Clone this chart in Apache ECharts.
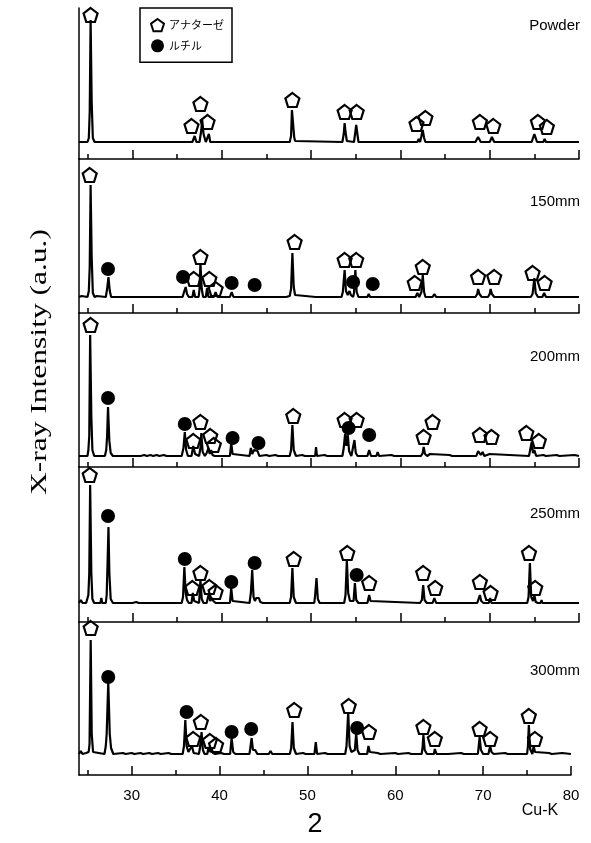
<!DOCTYPE html>
<html><head><meta charset="utf-8">
<script src="https://cdn.jsdelivr.net/npm/echarts@6/dist/echarts.min.js"></script>
<style>html,body{margin:0;padding:0;background:#fff}#c{width:591px;height:843px}</style>
</head><body><div id="c"></div><script>
// ---------- data ----------
const panelNames = ['Powder', '150mm', '200mm', '250mm', '300mm'];
const majorTicks = [30, 40, 50, 60, 70, 80];
const minorTicks = [25, 35, 45, 55, 65, 75];
const legendNames = ['アナターゼ', 'ルチル'];

const linePowder = [[24,0],[24.95,0],[25.1,4],[25.2,30],[25.3,122],[25.42,40],[25.55,4],[25.75,0],
 [36.7,0],[36.95,6],[37.15,0],[37.5,0],[37.7,12],[37.8,22],[37.95,8],[38.2,0],[38.4,0],[38.55,8],[38.7,0],
 [43.6,0],[43.7,1.5],[43.8,0],[47.0,0],[47.1,1.5],[47.2,0],[47.6,0],[47.75,6],[47.85,32],[48.0,32],[48.1,5],[48.2,1],[48.35,0],
 [53.5,0],[53.65,8],[53.75,19],[53.85,10],[54.0,1],[54.1,0],[54.8,0],[54.95,10],[55.05,17],[55.15,10],[55.3,0],
 [61.9,0],[62.05,3],[62.2,0],[62.35,6],[62.5,12],[62.65,4],[62.8,0],
 [68.4,0],[68.7,5],[69.0,0],[70.0,0],[70.25,5],[70.5,0],[74.7,0],[75.0,8],[75.3,0],[76.0,0],[76.15,3],[76.3,0],[79.8,0],[79.9,1.5],[80,0]];
const line150 = [[24,0],[24.3,1],[24.4,0],[24.95,0],[25.1,6],[25.2,30],[25.3,112],[25.42,40],[25.55,4],[25.75,0],[26.0,1],[26.2,0],
 [27.0,0],[27.15,8],[27.3,20],[27.45,6],[27.6,0],[31.5,0],[31.6,2],[31.7,0],[34.8,0],[34.9,2],[35.0,0],
 [35.6,0],[35.8,6],[35.95,10],[36.1,3],[36.3,0],[36.7,0],[36.85,7],[37.0,0],[37.4,0],[37.5,8],[37.6,34],[37.75,8],[37.9,0],
 [38.2,0],[38.35,9],[38.5,0],[39.1,0],[39.3,5],[39.5,0],[40.9,0],[41.1,5],[41.3,0],
 [43.0,0],[43.1,2],[43.2,0],[43.6,0],[43.7,2],[43.8,0],[44.1,0],[44.2,2],[44.3,0],
 [47.2,0],[47.4,2],[47.6,1],[47.75,8],[47.9,44],[48.05,10],[48.2,2],[48.4,0],[50.5,0],[50.6,2],[50.7,0],
 [53.4,0],[53.55,5],[53.75,27],[53.9,6],[54.1,2],[54.3,6],[54.45,2],[54.7,0],[54.8,4],[54.95,27],[55.1,5],[55.3,0],
 [56.3,0],[56.45,3],[56.6,0],[61.7,0],[61.9,4],[62.1,0],[62.35,5],[62.5,22],[62.65,5],[62.8,0],[63.6,0],[63.8,3],[64.0,0],
 [65.2,0],[65.3,1.5],[65.4,0],[68.4,0],[68.6,3],[68.7,8],[68.85,3],[69.1,0],[69.8,0],[70.0,3],[70.1,8],[70.25,3],[70.5,0],
 [74.6,0],[74.8,3],[75.0,19],[75.15,4],[75.4,0],[75.9,0],[76.1,4],[76.3,0],[79.8,0],[79.9,1.5],[80,0]];
const line200 = [[24,0],[24.95,0],[25.05,6],[25.15,20],[25.25,121],[25.38,40],[25.5,6],[25.7,0],
 [26.9,0],[27.05,6],[27.15,20],[27.25,49],[27.4,15],[27.55,3],[27.8,0],
 [30.4,0],[30.6,1],[30.9,0],[31.3,1],[31.6,0],[32.0,1],[32.3,0],[32.7,1],[33.0,0],[33.5,1],[33.8,0],
 [35.5,0],[35.7,8],[35.85,24],[36.0,6],[36.2,0],[36.6,0],[36.8,10],[37.0,2],[37.45,0],[37.6,8],[37.7,23],[37.85,4],[38.1,0],
 [38.3,3],[38.5,8],[38.65,2],[38.8,6],[38.95,1],[39.2,0],[40.9,0],[41.05,13],[41.2,2],[41.4,0],
 [43.1,0],[43.25,8],[43.4,2],[43.6,6],[43.8,4],[44.0,5],[44.2,0],[45.0,1],[45.3,0],[46.0,1],[46.3,0],
 [47.6,0],[47.75,6],[47.9,31],[48.05,6],[48.3,0],[49.0,1],[49.3,0],[50.45,0],[50.55,9],[50.65,0],[51.5,1],[51.8,0],
 [53.5,0],[53.65,8],[53.8,22],[53.95,10],[54.1,22],[54.25,5],[54.5,0],[54.7,2],[54.85,16],[55.0,3],[55.2,0],
 [56.3,0],[56.5,6],[56.7,0],[57.3,0],[57.45,4],[57.6,0],[59.0,1],[59.3,0],
 [62.3,0],[62.5,3],[62.6,9],[62.75,2],[63.0,0],[63.3,2],[63.5,0],[65.5,1],[65.8,0],
 [68.5,0],[68.7,5],[68.8,6],[69.0,1],[69.2,4],[69.4,0],[70.0,2],[70.2,0],
 [74.4,0],[74.55,7],[74.7,14],[74.85,3],[75.0,6],[75.2,0],[76.0,1],[76.3,0],[77.5,1],[77.8,0],[79.5,1],[80,0]];
const line250 = [[24,0],[24.2,3],[24.4,0],[24.6,2],[24.8,0],[24.95,1],[25.05,8],[25.15,30],[25.25,118],[25.38,30],[25.5,4],[25.7,0],
 [26.4,0],[26.5,5],[26.6,0],[27.0,0],[27.1,8],[27.2,40],[27.3,76],[27.4,30],[27.55,4],[27.8,0],
 [29.5,0],[29.7,1],[30.0,0],[30.4,1],[30.7,0],[31.8,0],[31.9,1.5],[32.0,0],
 [35.5,0],[35.65,6],[35.8,36],[35.95,10],[36.1,3],[36.3,0],[36.6,0],[36.75,10],[36.9,2],[37.1,0],[37.45,0],[37.6,23],[37.75,4],[37.95,0],
 [38.3,0],[38.45,6],[38.55,9],[38.7,2],[38.9,5],[39.05,2],[39.3,0],[40.9,0],[41.05,15],[41.2,2],[41.4,0],
 [43.1,0],[43.25,10],[43.4,33],[43.55,6],[43.7,2],[43.85,5],[44.0,3],[44.15,5],[44.3,1],[44.6,0],
 [47.6,0],[47.75,6],[47.9,35],[48.05,6],[48.3,0],[50.35,0],[50.45,8],[50.6,25],[50.75,4],[50.95,0],[51.4,0],[51.5,1.5],[51.6,0],
 [53.7,0],[53.85,8],[54.0,43],[54.15,10],[54.35,2],[54.55,0],[54.75,2],[54.9,20],[55.05,3],[55.3,0],[56.3,0],[56.5,8],[56.65,2],[56.85,0],
 [62.2,0],[62.4,3],[62.55,18],[62.7,3],[62.95,0],[63.6,0],[63.8,5],[64.0,0],[64.4,0],[64.5,1.5],[64.6,0],
 [68.6,0],[68.75,4],[68.9,8],[69.05,2],[69.3,0],[69.9,0],[70.05,5],[70.2,0],
 [74.2,0],[74.35,6],[74.5,40],[74.65,6],[74.85,2],[75.0,8],[75.15,1],[75.4,0],[75.7,0],[75.8,3],[75.9,0],[80,0]];
const line300 = [[24,0],[24.2,3],[24.4,0],[24.6,2],[24.8,1],[25.1,2],[25.2,10],[25.33,114],[25.45,20],[25.6,2],[25.8,0],
 [26.9,0],[27.05,8],[27.15,20],[27.33,72],[27.5,20],[27.65,6],[27.9,0],
 [29.0,1],[29.3,0],[30.0,1],[30.3,0],[31.0,1],[31.3,0],[32.0,1],[32.3,0],[33.0,1],[33.3,0],[34.2,1],[34.5,0],
 [35.8,0],[35.95,8],[36.1,34],[36.25,8],[36.45,2],[36.6,0],[36.85,8],[37.05,1],[37.65,0],[37.8,8],[37.95,22],[38.1,4],[38.3,0],
 [38.6,0],[38.75,7],[38.9,2],[39.1,6],[39.25,1],[39.5,0],[40.2,1],[40.5,0],[41.2,0],[41.37,16],[41.55,2],[41.8,0],
 [43.4,0],[43.5,6],[43.65,16],[43.8,4],[43.95,6],[44.05,4],[44.3,0],[45.6,0],[45.8,3],[46.0,0],
 [48.0,0],[48.15,6],[48.3,32],[48.45,6],[48.7,0],[49.5,1],[49.8,0],[50.8,0],[50.95,12],[51.1,0],[52.0,1],[52.3,0],
 [54.3,0],[54.45,8],[54.64,42],[54.8,8],[55.0,2],[55.2,0],[55.4,4],[55.55,21],[55.7,4],[55.9,0],[56.8,0],[56.95,8],[57.1,2],[57.3,0],
 [58.0,1],[58.3,0],[60.0,1],[60.3,0],[61.5,1],[61.8,0],
 [63.0,0],[63.1,6],[63.2,19],[63.35,4],[63.6,0],[64.4,0],[64.5,5],[64.7,0],[65.6,0],[65.8,2],[66.0,0],[67.5,1],[67.8,0],
 [69.4,0],[69.5,8],[69.6,17],[69.75,4],[70.0,0],[70.6,0],[70.8,8],[70.95,2],[71.2,0],[72.5,1],[72.8,0],
 [75.0,0],[75.1,8],[75.2,29],[75.35,5],[75.6,0],[75.75,8],[75.9,2],[76.1,0],[77.5,1],[77.8,0],[79.0,1],[80,0]];

const anatasePowder = [[25.3,127],[36.6,16],[37.6,38],[38.4,20],[47.9,42],[53.75,30],[55.1,30],[61.8,18],[62.8,24],[68.9,20],[70.4,16],[75.4,20],[76.4,15]];
const anatase150 = [[25.2,122],[36.85,18],[37.6,40],[38.6,18],[39.3,8],[48.15,55],[53.75,37],[55.05,37],[61.6,14],[62.5,30],[68.7,20],[70.5,20],[74.8,24],[76.15,14]];
const anatase200 = [[25.3,131],[36.8,15],[37.6,34],[38.7,20],[39.1,11],[48.0,40],[53.75,36],[55.1,36],[62.6,19],[63.6,34],[68.9,21],[70.2,19],[74.1,23],[75.5,15]];
const anatase250 = [[25.2,128],[36.7,15],[37.6,30],[38.6,16],[39.3,11],[48.05,44],[54.05,50],[56.5,20],[62.55,30],[63.9,15],[68.9,21],[70.1,10],[74.4,50],[75.1,15]];
const anatase300 = [[25.33,126],[37.0,15],[37.87,32],[38.9,13],[39.6,9],[48.5,44],[54.7,48],[57.0,22],[63.2,27],[64.5,15],[69.6,25],[70.8,15],[75.2,38],[75.9,15]];
const rutilePowder = [];
const rutile150 = [[27.25,28],[35.65,20],[41.1,14],[43.67,12],[54.7,15],[56.9,13]];
const rutile200 = [[27.25,58],[35.85,32],[41.2,18],[44.1,13],[54.2,28],[56.5,21]];
const rutile250 = [[27.25,87],[35.85,44],[41.06,21],[43.67,40],[55.1,28]];
const rutile300 = [[27.33,77],[36.25,42],[41.37,22],[43.6,25],[55.66,26]];

// ---------- layout ----------
const lines = [linePowder, line150, line200, line250, line300];
const anatase = [anatasePowder, anatase150, anatase200, anatase250, anatase300];
const rutile = [rutilePowder, rutile150, rutile200, rutile250, rutile300];
const geo = [
  {top: 8,   height: 151, width: 500, ymin: -17, ymax: 134, labelY: 26},
  {top: 159, height: 154, width: 500, ymin: -16, ymax: 138, labelY: 202},
  {top: 313, height: 154, width: 500, ymin: -11, ymax: 143, labelY: 357},
  {top: 467, height: 155, width: 500, ymin: -19, ymax: 136, labelY: 514},
  {top: 622, height: 153, width: 492, ymin: -21, ymax: 132, labelY: 671}
];
const pentagon = 'path://M0,-10L9.51,-3.09L5.88,8.09L-5.88,8.09L-9.51,-3.09Z';
const axisCol = '#000';

const grid = [], xAxis = [], yAxis = [], series = [], graphic = [];
geo.forEach((g, i) => {
  grid.push({left: 79, top: g.top, width: g.width, height: g.height});
  xAxis.push({type: 'value', gridIndex: i, min: 24, max: 80, position: 'bottom',
    axisLine: {show: true, onZero: false, lineStyle: {color: axisCol, width: 1.5}},
    axisTick: {show: true, inside: true, length: 9, customValues: majorTicks, lineStyle: {color: axisCol, width: 1.5}},
    axisLabel: {show: i === 4, customValues: majorTicks, fontSize: 15, color: '#000', fontFamily: 'Liberation Sans', margin: 13},
    splitLine: {show: false}});
  xAxis.push({type: 'value', gridIndex: i, min: 24, max: 80, position: 'bottom', offset: 0,
    axisLine: {show: false, onZero: false},
    axisTick: {show: true, inside: true, length: 5, customValues: minorTicks, lineStyle: {color: axisCol, width: 1.5}},
    axisLabel: {show: false}, splitLine: {show: false}});
  yAxis.push({type: 'value', gridIndex: i, min: g.ymin, max: g.ymax,
    axisLine: {show: true, onZero: false, lineStyle: {color: axisCol, width: 1.5}},
    axisTick: {show: false}, axisLabel: {show: false}, splitLine: {show: false}});
  series.push({type: 'line', name: panelNames[i], xAxisIndex: 2 * i, yAxisIndex: i, data: lines[i],
    symbol: 'none', lineStyle: {color: '#000', width: 2.2}, silent: true, z: 2});
  series.push({type: 'scatter', name: legendNames[0], xAxisIndex: 2 * i, yAxisIndex: i, data: anatase[i],
    symbol: pentagon, symbolSize: 14, clip: false,
    itemStyle: {color: 'rgba(0,0,0,0)', borderColor: '#000', borderWidth: 2.2, opacity: 1}, z: 5});
  series.push({type: 'scatter', name: legendNames[1], xAxisIndex: 2 * i, yAxisIndex: i, data: rutile[i],
    symbol: 'circle', symbolSize: 14, clip: false, itemStyle: {color: '#000', opacity: 1}, z: 5});
  graphic.push({type: 'text', x: 580, y: g.labelY,
    style: {text: panelNames[i], align: 'right', verticalAlign: 'middle', font: '15px "Liberation Sans"', fill: '#000'}});
});
graphic.push({type: 'text', x: 40, y: 362, rotation: Math.PI / 2, scaleX: 1.37,
  style: {text: 'X-ray Intensity (a.u.)', align: 'center', verticalAlign: 'middle', font: '23px "Liberation Serif"', fill: '#000'}});
graphic.push({type: 'text', x: 315, y: 825,
  style: {text: '2', align: 'center', verticalAlign: 'middle', font: '27px "Liberation Sans"', fill: '#000'}});
graphic.push({type: 'text', x: 540, y: 811,
  style: {text: 'Cu-K', align: 'center', verticalAlign: 'middle', font: '16px "Liberation Sans"', fill: '#000'}});

const chart = echarts.init(document.getElementById('c'), null, {renderer: 'canvas'});
chart.setOption({
  animation: false,
  backgroundColor: '#fff',
  grid, xAxis, yAxis, series, graphic,
  legend: {left: 140, top: 8, orient: 'vertical', selectedMode: false,
    data: [
      {name: legendNames[0], icon: pentagon, itemStyle: {color: 'rgba(0,0,0,0)', borderColor: '#000', borderWidth: 2}},
      {name: legendNames[1], icon: 'circle', itemStyle: {color: '#000', opacity: 1}}
    ],
    itemWidth: 13, itemHeight: 13, itemGap: 7, padding: [10, 8, 10, 10],
    borderColor: '#000', borderWidth: 1.5,
    textStyle: {fontSize: 11, fontFamily: 'Noto Sans CJK JP', color: '#000'}}
});
</script></body></html>
